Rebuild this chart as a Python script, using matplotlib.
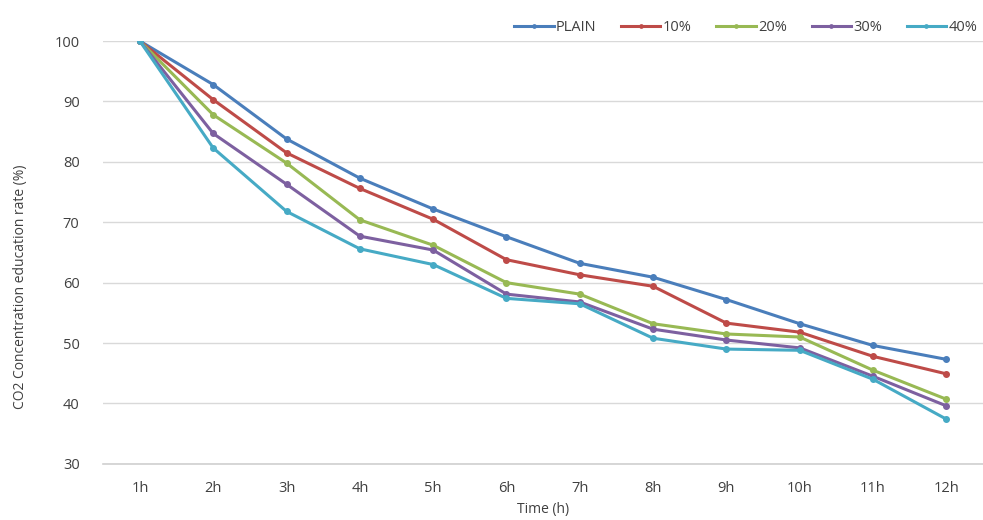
import matplotlib
matplotlib.use("Agg")
import matplotlib.pyplot as plt

plt.rcParams['font.family'] = ['Open Sans', 'DejaVu Sans']

categories = ["1h", "2h", "3h", "4h", "5h", "6h", "7h", "8h", "9h", "10h", "11h", "12h"]
plain = [100, 92.8, 83.8, 77.3, 72.2, 67.6, 63.2, 60.9, 57.2, 53.2, 49.6, 47.3]
p10 = [100, 90.3, 81.5, 75.6, 70.5, 63.8, 61.3, 59.4, 53.3, 51.8, 47.8, 44.9]
p20 = [100, 87.8, 79.8, 70.4, 66.2, 60.0, 58.1, 53.2, 51.5, 51.0, 45.5, 40.7]
p30 = [100, 84.7, 76.3, 67.7, 65.4, 58.1, 56.8, 52.3, 50.5, 49.2, 44.5, 39.6]
p40 = [100, 82.3, 71.8, 65.6, 63.0, 57.4, 56.5, 50.8, 49.0, 48.8, 44.0, 37.4]

series = [("PLAIN", plain, "#4A7EBB"), ("10%", p10, "#BE4B48"), ("20%", p20, "#98B954"),
          ("30%", p30, "#7D60A0"), ("40%", p40, "#46AAC5")]

fig = plt.figure(figsize=(9.83, 5.2), dpi=100)
ax = fig.add_axes([0.105, 0.108, 0.895, 0.813])
x = list(range(1, len(categories) + 1))
for name, vals, c in series:
    ax.plot(x, vals, color=c, lw=2.2, marker="o", ms=4, label=name)

ax.set_xlim(0.5, 12.5)
ax.set_ylim(30, 100)
ax.set_yticks(range(30, 101, 10))
ax.set_xticks(x)
ax.set_xticklabels(categories)
ax.grid(axis="y", color="#D9D9D9", lw=1)
ax.set_axisbelow(True)
for s in ax.spines.values():
    s.set_visible(False)
ax.spines["bottom"].set_visible(True)
ax.spines["bottom"].set_color("#D0D0D0")
ax.spines["bottom"].set_linewidth(1.2)
ax.tick_params(length=0, colors="#404040", labelsize=10.5)
ax.tick_params(axis="y", pad=17)
ax.tick_params(axis="x", pad=12)
ax.set_xlabel("Time (h)", fontsize=10, color="#404040", labelpad=5)
ax.set_ylabel("CO2 Concentration education rate (%)", fontsize=10, color="#404040", labelpad=6)
ax.yaxis.set_label_coords(-0.085, 0.42)
leg = ax.legend(loc="lower right", bbox_to_anchor=(1.0, 1.0), ncol=5, frameon=False,
                fontsize=10.5, handlelength=2.7, columnspacing=1.7, handletextpad=0.15,
                borderaxespad=0.0, markerscale=0.6)
for t in leg.get_texts():
    t.set_color("#404040")
fig.savefig("out.png", dpi=100)
